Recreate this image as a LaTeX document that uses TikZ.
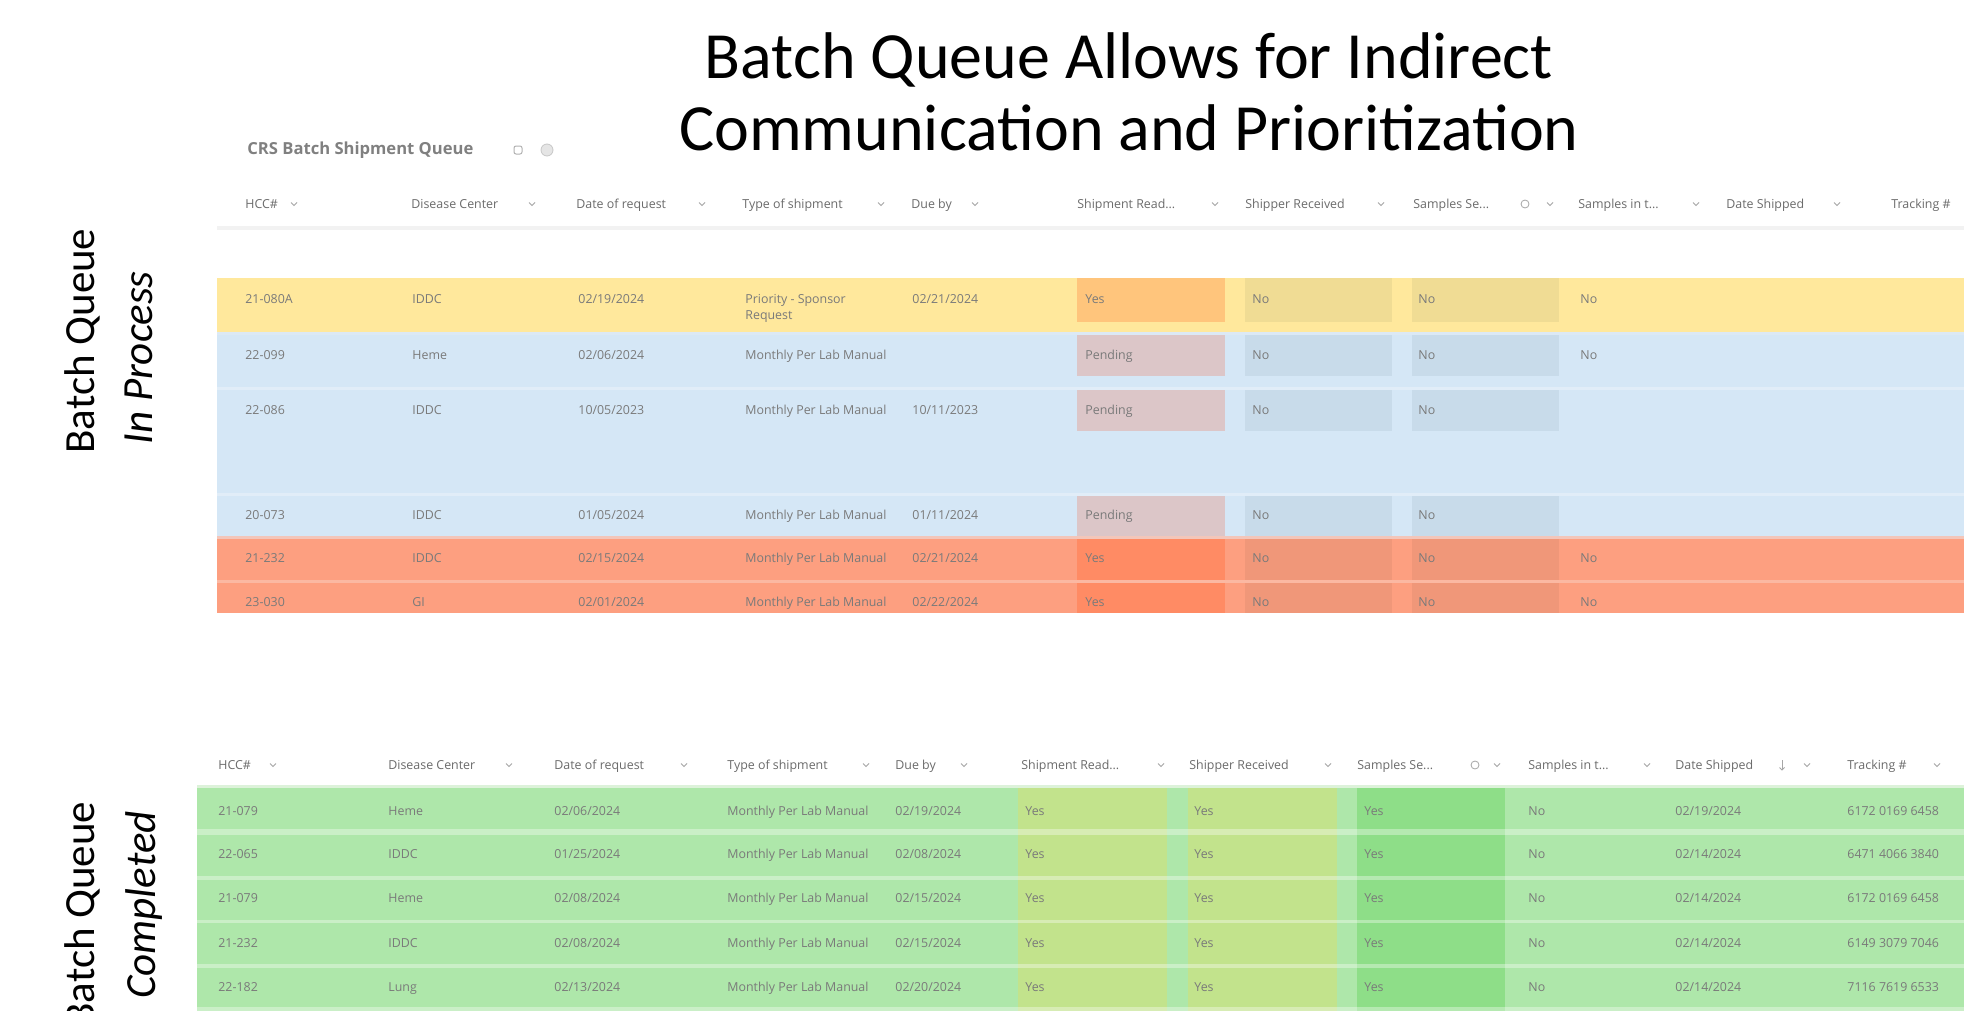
\documentclass[tikz,border=0pt]{standalone}
\usepackage{fontspec}
\setmainfont{Carlito}
\newfontfamily\uifont{Open Sans}
\definecolor{yelrow}{HTML}{FFE89C}
\definecolor{yelsr}{HTML}{FFC57C}
\definecolor{yelbox}{HTML}{F0DC94}
\definecolor{bluerow}{HTML}{D5E7F6}
\definecolor{pinkbox}{HTML}{DCC6C8}
\definecolor{bluebox}{HTML}{C8DBEA}
\definecolor{orrow}{HTML}{FD9F80}
\definecolor{orsr}{HTML}{FF8B64}
\definecolor{orbox}{HTML}{F09779}
\definecolor{grnrow}{HTML}{AEE7AA}
\definecolor{ygbox}{HTML}{C2E38C}
\definecolor{gbox}{HTML}{8EDE88}
\definecolor{hdrline}{HTML}{F2F2F2}
\definecolor{grnline}{HTML}{DDF2DA}
\definecolor{txtgray}{HTML}{7A7A7A}
\definecolor{sepyb}{HTML}{DCE9F5}
\definecolor{sepbb}{HTML}{E1EDF8}
\definecolor{sepbo}{HTML}{F3C6BA}
\definecolor{sepoo}{HTML}{FBB8A2}
\newcommand\TopRow[9]{%
  \node[tabtxt] (ta#1) at (245,#1) {#2};
  \node[tabtxt] (tb#1) at (412,#1) {#3};
  \node[tabtxt] (tc#1) at (578,#1) {#4};
  \node[tabtxt] (td#1) at (745,#1) {#5};
  \node[tabtxt] (te#1) at (912,#1) {#6};
  \node[tabtxt] (tf#1) at (1085,#1) {#7};
  \node[tabtxt] (tg#1) at (1252,#1) {#8};
  \node[tabtxt] (th#1) at (1418,#1) {#9};
}
\newcommand\BotRow[7]{%
  \node[tabtxt] (ba#1) at (218,#1) {#2};
  \node[tabtxt] (bb#1) at (388,#1) {#3};
  \node[tabtxt] (bc#1) at (554,#1) {#4};
  \node[tabtxt] (bd#1) at (727,#1) {Monthly Per Lab Manual};
  \node[tabtxt] (be#1) at (895,#1) {#5};
  \node[tabtxt] (bf#1) at (1025,#1) {Yes};
  \node[tabtxt] (bg#1) at (1194,#1) {Yes};
  \node[tabtxt] (bh#1) at (1364,#1) {Yes};
  \node[tabtxt] (bi#1) at (1528,#1) {No};
  \node[tabtxt] (bj#1) at (1675,#1) {#6};
  \node[tabtxt] (bk#1) at (1847,#1) {#7};
}
\newcommand\chev[2]{\draw[chevst] (#1-3,#2-1.5) -- (#1,#2+1.5) -- (#1+3,#2-1.5);}
\begin{document}
\begin{tikzpicture}[x=0.5pt,y=-0.5pt,
  tabtxt/.style={font=\uifont\fontsize{6.2}{7}\selectfont, text=txtgray, anchor=base west, inner sep=0pt},
  hdrtxt/.style={font=\uifont\fontsize{6.2}{7}\selectfont, text=black!58, anchor=base west, inner sep=0pt},
  chevst/.style={draw=black!35, line width=0.4pt},
  titletxt/.style={font=\fontsize{33}{40}\selectfont, anchor=base, inner sep=0pt},
  sidetxt/.style={font=\fontsize{21.5}{26}\selectfont, anchor=base, inner sep=0pt, rotate=90},
  sep/.style={fill=white, fill opacity=0.35}
]
\useasboundingbox (0,0) rectangle (1964,1011);
\clip (0,0) rectangle (1964,1011);
\fill[white] (0,0) rectangle (1964,1011);

% ---------- title ----------
\node[titletxt] (title1) at (1129,79) {Batch Queue Allows for Indirect};
\node[titletxt] (title2) at (1129,150) {Communication and Prioritization};

% ---------- side labels ----------
\node[sidetxt] (bq1) at (94,341) {Batch Queue};
\node[sidetxt, font=\fontsize{21.5}{26}\selectfont\itshape] (inproc) at (152,358) {In Process};
\node[sidetxt] (bq2) at (94,914) {Batch Queue};
\node[sidetxt, font=\fontsize{21.5}{26}\selectfont\itshape] (compl) at (155,905) {Completed};

% ---------- top list header ----------
\node[font=\uifont\bfseries\fontsize{8.3}{10}\selectfont, text=black!50, anchor=west, inner sep=0pt] (crs) at (247,150) {CRS Batch Shipment Queue};
\draw[black!30, line width=0.5pt, rounded corners=1] (514,146) rectangle (522,154);
\fill[black!10] (547,150) circle (6);
\draw[black!22, line width=0.4pt] (547,150) circle (6);

\node[hdrtxt] (th1) at (245,208) {HCC\#};
\node[hdrtxt] (th2) at (411,208) {Disease Center};
\node[hdrtxt] (th3) at (576,208) {Date of request};
\node[hdrtxt] (th4) at (742,208) {Type of shipment};
\node[hdrtxt] (th5) at (911,208) {Due by};
\node[hdrtxt] (th6) at (1077,208) {Shipment Read...};
\node[hdrtxt] (th7) at (1245,208) {Shipper Received};
\node[hdrtxt] (th8) at (1413,208) {Samples Se...};
\node[hdrtxt] (th9) at (1578,208) {Samples in t...};
\node[hdrtxt] (th10) at (1726,208) {Date Shipped};
\node[hdrtxt] (th11) at (1891,208) {Tracking \#};
\chev{294}{204}\chev{532}{204}\chev{702}{204}\chev{881}{204}\chev{975}{204}
\chev{1215}{204}\chev{1381}{204}\chev{1550}{204}\chev{1696}{204}\chev{1837}{204}
\draw[chevst] (1525,204) circle (4);
\fill[hdrline] (217,226) rectangle (1964,230);

% ---------- top rows ----------
\fill[yelrow] (217,278) rectangle (1964,332);
\fill[sepyb] (217,332) rectangle (1964,335);
\fill[bluerow] (217,335) rectangle (1964,387);
\fill[sepbb] (217,387) rectangle (1964,390);
\fill[bluerow] (217,390) rectangle (1964,493);
\fill[sepbb] (217,493) rectangle (1964,496);
\fill[bluerow] (217,496) rectangle (1964,536);
\fill[sepbo] (217,536) rectangle (1964,539);
\fill[orrow] (217,539) rectangle (1964,580);
\fill[sepoo] (217,580) rectangle (1964,583);
\fill[orrow] (217,583) rectangle (1964,613);

% status boxes
\fill[yelsr] (1077,278) rectangle (1225,322);
\fill[yelbox] (1245,278) rectangle (1392,322);
\fill[yelbox] (1412,278) rectangle (1559,322);
\foreach \ya/\yb in {335/376, 390/431, 496/536}{
  \fill[pinkbox] (1077,\ya) rectangle (1225,\yb);
  \fill[bluebox] (1245,\ya) rectangle (1392,\yb);
  \fill[bluebox] (1412,\ya) rectangle (1559,\yb);
}
\foreach \ya/\yb in {539/580, 583/613}{
  \fill[orsr] (1077,\ya) rectangle (1225,\yb);
  \fill[orbox] (1245,\ya) rectangle (1392,\yb);
  \fill[orbox] (1412,\ya) rectangle (1559,\yb);
}

\TopRow{303}{21-080A}{IDDC}{02/19/2024}{Priority - Sponsor}{02/21/2024}{Yes}{No}{No}
\node[tabtxt] (td303b) at (745,319) {Request};
\node[tabtxt] (ti303) at (1580,303) {No};
\TopRow{359}{22-099}{Heme}{02/06/2024}{Monthly Per Lab Manual}{}{Pending}{No}{No}
\node[tabtxt] (ti359) at (1580,359) {No};
\TopRow{414}{22-086}{IDDC}{10/05/2023}{Monthly Per Lab Manual}{10/11/2023}{Pending}{No}{No}
\TopRow{519}{20-073}{IDDC}{01/05/2024}{Monthly Per Lab Manual}{01/11/2024}{Pending}{No}{No}
\TopRow{562}{21-232}{IDDC}{02/15/2024}{Monthly Per Lab Manual}{02/21/2024}{Yes}{No}{No}
\node[tabtxt] (ti562) at (1580,562) {No};
\TopRow{606}{23-030}{GI}{02/01/2024}{Monthly Per Lab Manual}{02/22/2024}{Yes}{No}{No}
\node[tabtxt] (ti606) at (1580,606) {No};

% ---------- bottom list ----------
\node[hdrtxt] (bh1) at (218,769) {HCC\#};
\node[hdrtxt] (bh2) at (388,769) {Disease Center};
\node[hdrtxt] (bh3) at (554,769) {Date of request};
\node[hdrtxt] (bh4) at (727,769) {Type of shipment};
\node[hdrtxt] (bh5) at (895,769) {Due by};
\node[hdrtxt] (bh6) at (1021,769) {Shipment Read...};
\node[hdrtxt] (bh7) at (1189,769) {Shipper Received};
\node[hdrtxt] (bh8) at (1357,769) {Samples Se...};
\node[hdrtxt] (bh9) at (1528,769) {Samples in t...};
\node[hdrtxt] (bh10) at (1675,769) {Date Shipped};
\node[hdrtxt] (bh11) at (1847,769) {Tracking \#};
\chev{273}{765}\chev{509}{765}\chev{684}{765}\chev{866}{765}\chev{964}{765}
\chev{1161}{765}\chev{1328}{765}\chev{1497}{765}\chev{1647}{765}\chev{1807}{765}\chev{1937}{765}
\draw[chevst] (1475,765) circle (4);
\draw[chevst] (1782,760) -- (1782,770);
\draw[chevst] (1779.5,767.5) -- (1782,770) -- (1784.5,767.5);

\fill[grnline] (197,785) rectangle (1964,788);
\fill[grnrow] (197,788) rectangle (1964,1011);
\fill[ygbox] (1018,788) rectangle (1167,1011);
\fill[ygbox] (1188,788) rectangle (1337,1011);
\fill[gbox] (1357,788) rectangle (1505,1011);
\foreach \ya/\yb in {829/835, 876/880, 920/923, 964/968, 1007/1011}{
  \fill[sep] (197,\ya) rectangle (1964,\yb);
}

\BotRow{815}{21-079}{Heme}{02/06/2024}{02/19/2024}{02/19/2024}{6172 0169 6458}
\BotRow{858}{22-065}{IDDC}{01/25/2024}{02/08/2024}{02/14/2024}{6471 4066 3840}
\BotRow{902}{21-079}{Heme}{02/08/2024}{02/15/2024}{02/14/2024}{6172 0169 6458}
\BotRow{947}{21-232}{IDDC}{02/08/2024}{02/15/2024}{02/14/2024}{6149 3079 7046}
\BotRow{991}{22-182}{Lung}{02/13/2024}{02/20/2024}{02/14/2024}{7116 7619 6533}
\end{tikzpicture}
\end{document}
